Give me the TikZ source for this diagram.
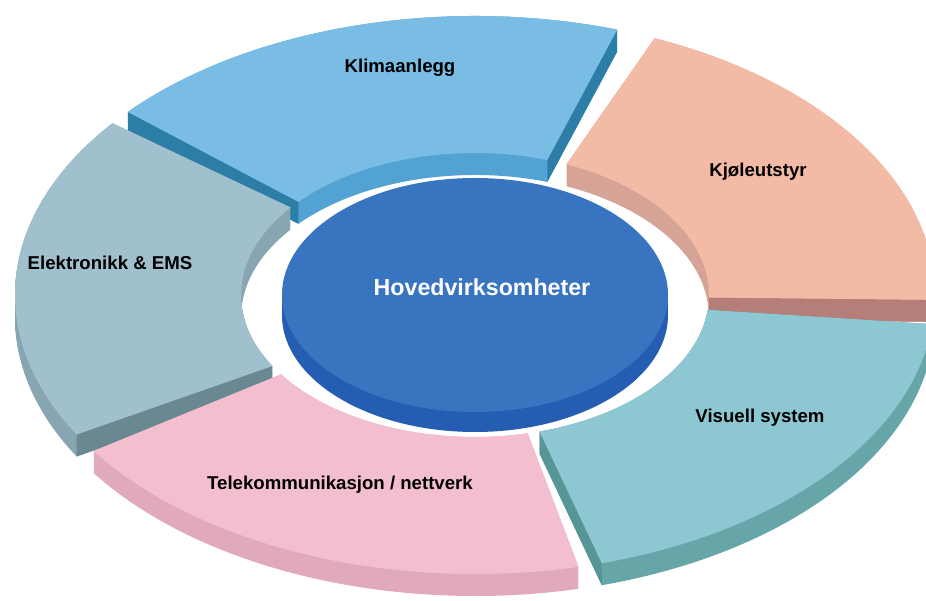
\documentclass[tikz,border=0pt]{standalone}
\usepackage{fontspec}
\setmainfont{Liberation Sans}
\usetikzlibrary{calc}
\definecolor{klimatop}{RGB}{122,189,228}
\definecolor{klimawall}{RGB}{82,163,212}
\definecolor{klimaend}{RGB}{45,126,166}
\definecolor{kjoletop}{RGB}{243,187,166}
\definecolor{kjolewall}{RGB}{214,164,150}
\definecolor{kjoleend}{RGB}{181,126,120}
\definecolor{elektop}{RGB}{161,192,205}
\definecolor{elekwall}{RGB}{136,165,178}
\definecolor{elekend}{RGB}{106,136,146}
\definecolor{visutop}{RGB}{141,200,210}
\definecolor{visuwall}{RGB}{102,166,168}
\definecolor{visuend}{RGB}{86,150,150}
\definecolor{teletop}{RGB}{243,190,206}
\definecolor{telewall}{RGB}{224,170,186}
\definecolor{disctop}{RGB}{56,116,192}
\definecolor{discside}{RGB}{36,93,178}
\begin{document}
\begin{tikzpicture}
  [
    x=0.02cm, y=0.02cm,
    outer/.style={x radius=460, y radius=279},
    inner/.style={x radius=234, y radius=142},
    seglabel/.style={font=\bfseries\fontsize{10.6}{12}\selectfont, text=black}
  ]
  \useasboundingbox (-475,-306) rectangle (451,295);
  \clip (-475,-306) rectangle (451,295);
  % Klimaanlegg
  \coordinate (k1o) at (72:460 and 279);
  \coordinate (k1i) at (72:234 and 142);
  \coordinate (k2o) at (139:460 and 279);
  \coordinate (k2i) at (139:234 and 142);
  \foreach \t in {0,...,22} {
      \fill [klimawall, shift={(0,-\t)}]
      (72:460 and 279) arc [outer, start angle=72, end angle=139]
      -- (139:234 and 142) arc [inner, start angle=139, end angle=72] -- cycle;
  }
  \fill [klimaend] (k1o) -- (k1i) -- ($(k1i)+(0,-22)$) -- ($(k1o)+(0,-22)$) -- cycle;
  \fill [klimaend] (k2o) -- (k2i) -- ($(k2i)+(0,-22)$) -- ($(k2o)+(0,-22)$) -- cycle;
  \fill [klimatop]
  (k1o) arc [outer, start angle=72, end angle=139]
  -- (k2i) arc [inner, start angle=139, end angle=72] -- cycle;
  % Kjoleutstyr
  \coordinate (j1o) at (-1:460 and 279);
  \coordinate (j1i) at (-1:234 and 142);
  \coordinate (j2i) at (67:234 and 142);
  \foreach \t in {0,...,22} {
      \fill [kjolewall, shift={(0,-\t)}]
      (-1:460 and 279) arc [outer, start angle=-1, end angle=67]
      -- (67:234 and 142) arc [inner, start angle=67, end angle=-1] -- cycle;
  }
  \fill [kjoleend] (j1o) -- (j1i) -- ($(j1i)+(0,-22)$) -- ($(j1o)+(0,-22)$) -- cycle;
  \fill [kjoletop]
  (j1o) arc [outer, start angle=-1, end angle=67]
  -- (j2i) arc [inner, start angle=67, end angle=-1] -- cycle;
  % Elektronikk & EMS
  \coordinate (e1o) at (142:460 and 279);
  \coordinate (e2o) at (210:460 and 279);
  \coordinate (e2i) at (210:234 and 142);
  \foreach \t in {0,...,22} {
      \fill [elekwall, shift={(0,-\t)}]
      (142:460 and 279) arc [outer, start angle=142, end angle=210]
      -- (210:234 and 142) arc [inner, start angle=210, end angle=142] -- cycle;
  }
  \fill [elekend] (e2o) -- (e2i) -- ($(e2i)+(0,-22)$) -- ($(e2o)+(0,-22)$) -- cycle;
  \fill [elektop]
  (e1o) arc [outer, start angle=142, end angle=210]
  -- (e2i) arc [inner, start angle=210, end angle=142] -- cycle;
  % Hovedvirksomheter
  \fill [discside] (-193,-20) rectangle (193,0);
  \fill [discside] (0,-20) ellipse [x radius=193, y radius=117];
  \fill [disctop] (0,0) ellipse [x radius=193, y radius=117];
  % Visuell system
  \coordinate (v1o) at (286:460 and 279);
  \coordinate (v1i) at (286:234 and 142);
  \coordinate (v2i) at (354:234 and 142);
  \foreach \t in {0,...,22} {
      \fill [visuwall, shift={(0,-\t)}]
      (286:460 and 279) arc [outer, start angle=286, end angle=354]
      -- (354:234 and 142) arc [inner, start angle=354, end angle=286] -- cycle;
  }
  \fill [visuend] (v1o) -- (v1i) -- ($(v1i)+(0,-22)$) -- ($(v1o)+(0,-22)$) -- cycle;
  \fill [visutop]
  (v1o) arc [outer, start angle=286, end angle=354]
  -- (v2i) arc [inner, start angle=354, end angle=286] -- cycle;
  % Telekommunikasjon / nettverk
  \coordinate (t1o) at (214:460 and 279);
  \coordinate (t2i) at (283:234 and 142);
  \foreach \t in {0,...,22} {
      \fill [telewall, shift={(0,-\t)}]
      (214:460 and 279) arc [outer, start angle=214, end angle=283]
      -- (283:234 and 142) arc [inner, start angle=283, end angle=214] -- cycle;
  }
  \fill [teletop]
  (t1o) arc [outer, start angle=214, end angle=283]
  -- (t2i) arc [inner, start angle=283, end angle=214] -- cycle;
  % labels
  \node [seglabel] (klima) at (-75,227) {Klimaanlegg};
  \node [seglabel] (kjole) at (283,123) {Kjøleutstyr};
  \node [seglabel] (elek) at (-365,32) {Elektronikk \& EMS};
  \node [seglabel] (visu) at (285,-123) {Visuell system};
  \node [seglabel] (tele) at (-135,-190) {Telekommunikasjon / nettverk};
  \node [font=\bfseries\fontsize{13.2}{15}\selectfont, text=white] (hoved) at (7,8) {Hovedvirksomheter};
\end{tikzpicture}
\end{document}
